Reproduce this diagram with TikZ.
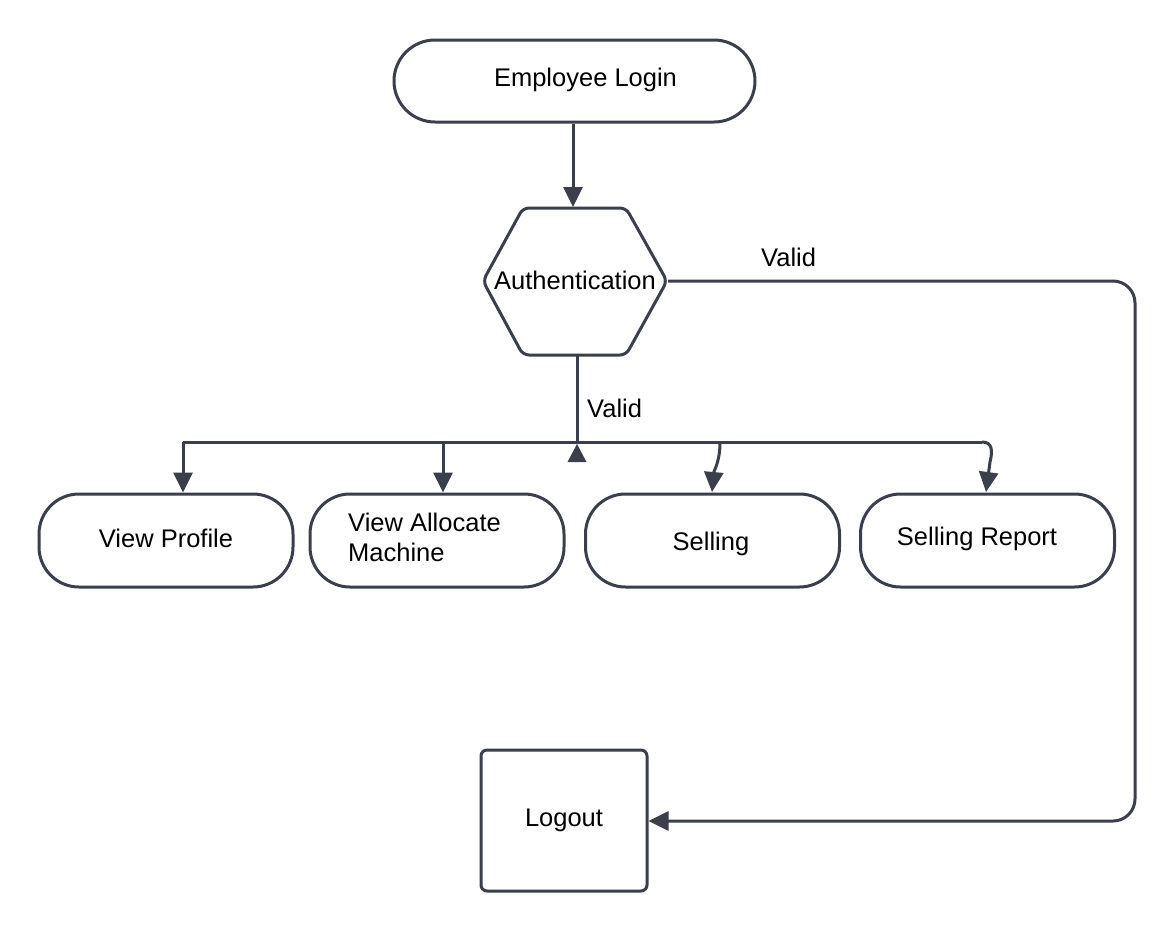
\documentclass[tikz,border=0pt]{standalone}
\usepackage{fontspec}
\setmainfont{Liberation Sans}
\usetikzlibrary{arrows.meta}
\definecolor{ln}{HTML}{3A3F4B}
\tikzset{
  x=1pt,y=-1pt,
  every node/.style={font=\fontsize{25.5}{30}\selectfont, text=black},
  shapebox/.style={draw=ln, line width=3pt, fill=white, rounded corners=40pt, minimum width=254pt, minimum height=93pt, inner sep=0pt},
  loginbox/.style={draw=ln, line width=3pt, fill=white, rounded corners=41pt, minimum width=361pt, minimum height=82pt, inner sep=0pt},
  logoutbox/.style={draw=ln, line width=3pt, fill=white, rounded corners=6pt, minimum width=166pt, minimum height=141pt, inner sep=0pt},
  txt/.style={inner sep=0pt},
  conn/.style={draw=ln, line width=3pt, -{Triangle[length=20pt,width=19pt]}},
  plain/.style={draw=ln, line width=3pt},
}
\begin{document}
\begin{tikzpicture}
\useasboundingbox (0,0) rectangle (1176,932);
\fill[white] (0,0) rectangle (1176,932);

% nodes
\node[loginbox] (login) at (574.5,81) {};
\node[txt] (loginT) at (585.5,80) {Employee Login};

\draw[ln, line width=3pt, fill=white, rounded corners=6pt]
  (483,281) -- (523,208) -- (626,208) -- (667,281) -- (626,355) -- (523,355) -- cycle;
\node[txt] (auth) at (575,280) {Authentication};
\coordinate (authTop) at (573,207);
\coordinate (authBot) at (577,355);
\coordinate (authRight) at (668,281);

\node[shapebox] (vp) at (166,540.5) {};
\node[txt] (vpT) at (166,538.5) {View Profile};
\node[shapebox] (vam) at (437,540.5) {};
\node[txt, anchor=west, align=left] (vamT) at (348,537) {View Allocate\\Machine};
\node[shapebox] (sell) at (712.5,540.5) {};
\node[txt] (sellT) at (711,544) {Selling};
\node[shapebox] (sr) at (987.5,540.5) {};
\node[txt] (srT) at (977,538.5) {Selling Report};

\node[logoutbox] (logout) at (564,820.5) {Logout};

% connectors
\draw[conn] (login.south -| authTop) -- (authTop);

\coordinate (bj) at (577,442);
\coordinate (bl) at (183,442);
\coordinate (bvam) at (443,442);
\coordinate (bsell) at (720,442);
\coordinate (bsr) at (982,442);

\draw[plain] (authBot) -- (bj);
\node[txt, anchor=west] (v1) at (587,408) {Valid};
\draw[plain] (bl) -- (bsr);
\draw[conn] (bl) -- (bl |- vp.north);
\draw[conn] (bvam) -- (bvam |- vam.north);
\draw[conn] (bsell) .. controls (720,462) and (714,470) .. (712,492);
\draw[conn] (bsr) .. controls (992,442) and (993,450) .. (990,462) -- (986,492);
\fill[ln] (577,444) -- (586.5,462) -- (567.5,462) -- cycle;

\draw[conn, rounded corners=22pt] (authRight) -- (1135,281) -- (1135,821) -- (logout.east |- 0,821);
\node[txt, anchor=west] (v2) at (761,257) {Valid};
\end{tikzpicture}
\end{document}
